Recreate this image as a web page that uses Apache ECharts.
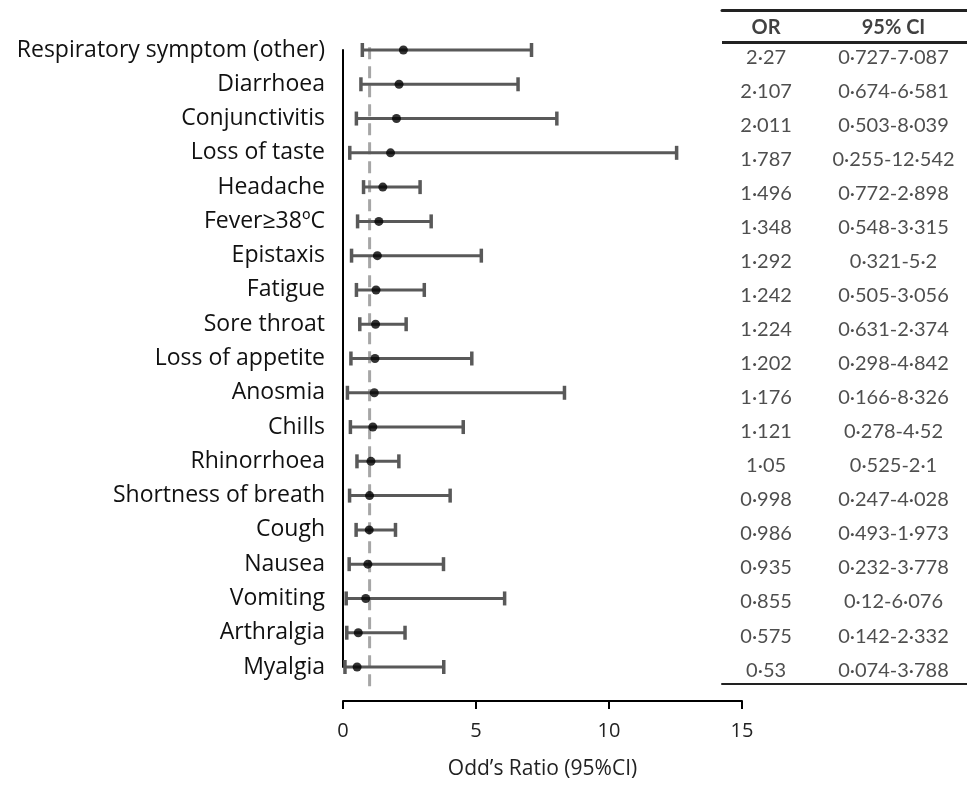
<!DOCTYPE html>
<html>
<head>
<meta charset="utf-8">
<script src="https://cdn.jsdelivr.net/npm/echarts@6/dist/echarts.min.js"></script>
<style>
  html, body { margin: 0; padding: 0; background: #fff; }
  #chart { width: 967px; height: 785px; }
</style>
</head>
<body>
<div id="chart"></div>
<script>
// symptoms, top to bottom
const categories = [
  "Respiratory symptom (other)", "Diarrhoea", "Conjunctivitis", "Loss of taste",
  "Headache", "Fever≥38ºC", "Epistaxis", "Fatigue", "Sore throat",
  "Loss of appetite", "Anosmia", "Chills", "Rhinorrhoea", "Shortness of breath",
  "Cough", "Nausea", "Vomiting", "Arthralgia", "Myalgia"
];
const oddsRatio = [2.27, 2.107, 2.011, 1.787, 1.496, 1.348, 1.292, 1.242, 1.224,
  1.202, 1.176, 1.121, 1.05, 0.998, 0.986, 0.935, 0.855, 0.575, 0.53];
const ciLow = [0.727, 0.674, 0.503, 0.255, 0.772, 0.548, 0.321, 0.505, 0.631,
  0.298, 0.166, 0.278, 0.525, 0.247, 0.493, 0.232, 0.12, 0.142, 0.074];
const ciHigh = [7.087, 6.581, 8.039, 12.542, 2.898, 3.315, 5.2, 3.056, 2.374,
  4.842, 8.326, 4.52, 2.1, 4.028, 1.973, 3.778, 6.076, 2.332, 3.788];
const xTicks = [0, 5, 10, 15];
const refValue = 1;
const tableHeader = ["OR", "95% CI"];

const dot = v => String(v).replace(".", "·");

const barColor = "#595959";
const labelFont = "'Open Sans', sans-serif";
const tableFont = "Lato, sans-serif";

const chart = echarts.init(document.getElementById("chart"));

// table columns (x in the table grid, 0..1)
const colOR = 0.18, colCI = 0.70;
const headerRow = -0.9;

const option = {
  animation: false,
  grid: [
    { left: 343, right: 225, top: 50, bottom: 114 },   // forest plot
    { left: 722, right: 0, top: 10, bottom: 101 }      // table
  ],
  xAxis: [
    {
      gridIndex: 0, type: "value",
      min: xTicks[0], max: xTicks[xTicks.length - 1], interval: 5,
      offset: 34,
      axisLine: { show: true, onZero: false, lineStyle: { color: "#000", width: 2 } },
      axisTick: { show: true, length: 8, lineStyle: { color: "#000", width: 2 } },
      axisLabel: { fontFamily: labelFont, fontSize: 20, color: "#222", margin: 20 },
      splitLine: { show: false },
      name: "Odd’s Ratio (95%CI)", nameLocation: "middle", nameGap: 58,
      nameTextStyle: { fontFamily: labelFont, fontSize: 21, color: "#222" }
    },
    {
      gridIndex: 1, type: "value", min: 0, max: 1, position: "top",
      axisLine: { show: true, onZero: false, lineStyle: { color: "#222", width: 3 } },
      axisTick: { show: false }, axisLabel: { show: false }, splitLine: { show: false }
    },
    {
      gridIndex: 1, type: "value", min: 0, max: 1, position: "bottom",
      axisLine: { show: true, onZero: false, lineStyle: { color: "#222", width: 2 } },
      axisTick: { show: false }, axisLabel: { show: false }, splitLine: { show: false }
    }
  ],
  yAxis: [
    {
      gridIndex: 0, type: "category", data: categories, inverse: true, boundaryGap: false,
      axisLine: { show: true, lineStyle: { color: "#000", width: 2 } },
      axisTick: { show: false },
      axisLabel: { fontFamily: labelFont, fontSize: 23, color: "#111", margin: 18 },
      splitLine: { show: false }
    },
    {
      gridIndex: 1, type: "value", inverse: true, min: -1.41, max: 18.41,
      show: false, splitLine: { show: false }
    },
    {
      // hidden helper axis for the reference line height
      gridIndex: 0, type: "value", min: 0, max: 1, show: false, splitLine: { show: false }
    }
  ],
  series: [
    {
      // reference line at OR = 1, running a little past the plot rows
      type: "line", xAxisIndex: 0, yAxisIndex: 2, z: 1, clip: false,
      symbol: "none", silent: true,
      lineStyle: { color: "#a6a6a6", width: 3, type: [12, 7] },
      data: [[refValue, -0.031], [refValue, 1.016]]
    },
    {
      type: "custom", xAxisIndex: 0, yAxisIndex: 0, z: 2,
      data: categories.map((c, i) => [ciLow[i], ciHigh[i], i]),
      encode: { x: [0, 1], y: 2 },
      renderItem: (params, api) => {
        const a = api.coord([api.value(0), api.value(2)]);
        const b = api.coord([api.value(1), api.value(2)]);
        const h = 7;
        const style = { stroke: barColor, lineWidth: 3 };
        const cap = { stroke: barColor, lineWidth: 3.5 };
        return {
          type: "group",
          children: [
            { type: "line", shape: { x1: a[0], y1: a[1], x2: b[0], y2: b[1] }, style },
            { type: "line", shape: { x1: a[0], y1: a[1] - h, x2: a[0], y2: a[1] + h }, style: cap },
            { type: "line", shape: { x1: b[0], y1: b[1] - h, x2: b[0], y2: b[1] + h }, style: cap }
          ]
        };
      }
    },
    {
      type: "scatter", xAxisIndex: 0, yAxisIndex: 0, z: 3,
      symbol: "circle", symbolSize: 9,
      itemStyle: { color: "#000" },
      data: oddsRatio.map((v, i) => [v, i])
    },
    // table: header
    {
      type: "scatter", xAxisIndex: 1, yAxisIndex: 1, symbolSize: 0,
      data: [[colOR, headerRow, tableHeader[0]], [colCI, headerRow, tableHeader[1]]],
      label: {
        show: true, position: "inside", formatter: p => p.value[2],
        fontFamily: tableFont, fontSize: 20, fontWeight: "bold", color: "#111"
      },
      markLine: {
        silent: true, symbol: "none", label: { show: false },
        lineStyle: { color: "#222", width: 3, type: "solid" },
        data: [{ yAxis: -0.47 }]
      }
    },
    // table: OR column
    {
      type: "scatter", xAxisIndex: 1, yAxisIndex: 1, symbolSize: 0,
      data: oddsRatio.map((v, i) => [colOR, i, dot(v)]),
      label: {
        show: true, position: "inside", formatter: p => p.value[2],
        fontFamily: tableFont, fontSize: 20, color: "#222"
      }
    },
    // table: CI column
    {
      type: "scatter", xAxisIndex: 1, yAxisIndex: 1, symbolSize: 0,
      data: ciLow.map((v, i) => [colCI, i, dot(v) + "-" + dot(ciHigh[i])]),
      label: {
        show: true, position: "inside", formatter: p => p.value[2],
        fontFamily: tableFont, fontSize: 20, color: "#222"
      }
    }
  ]
};

chart.setOption(option);
</script>
</body>
</html>
